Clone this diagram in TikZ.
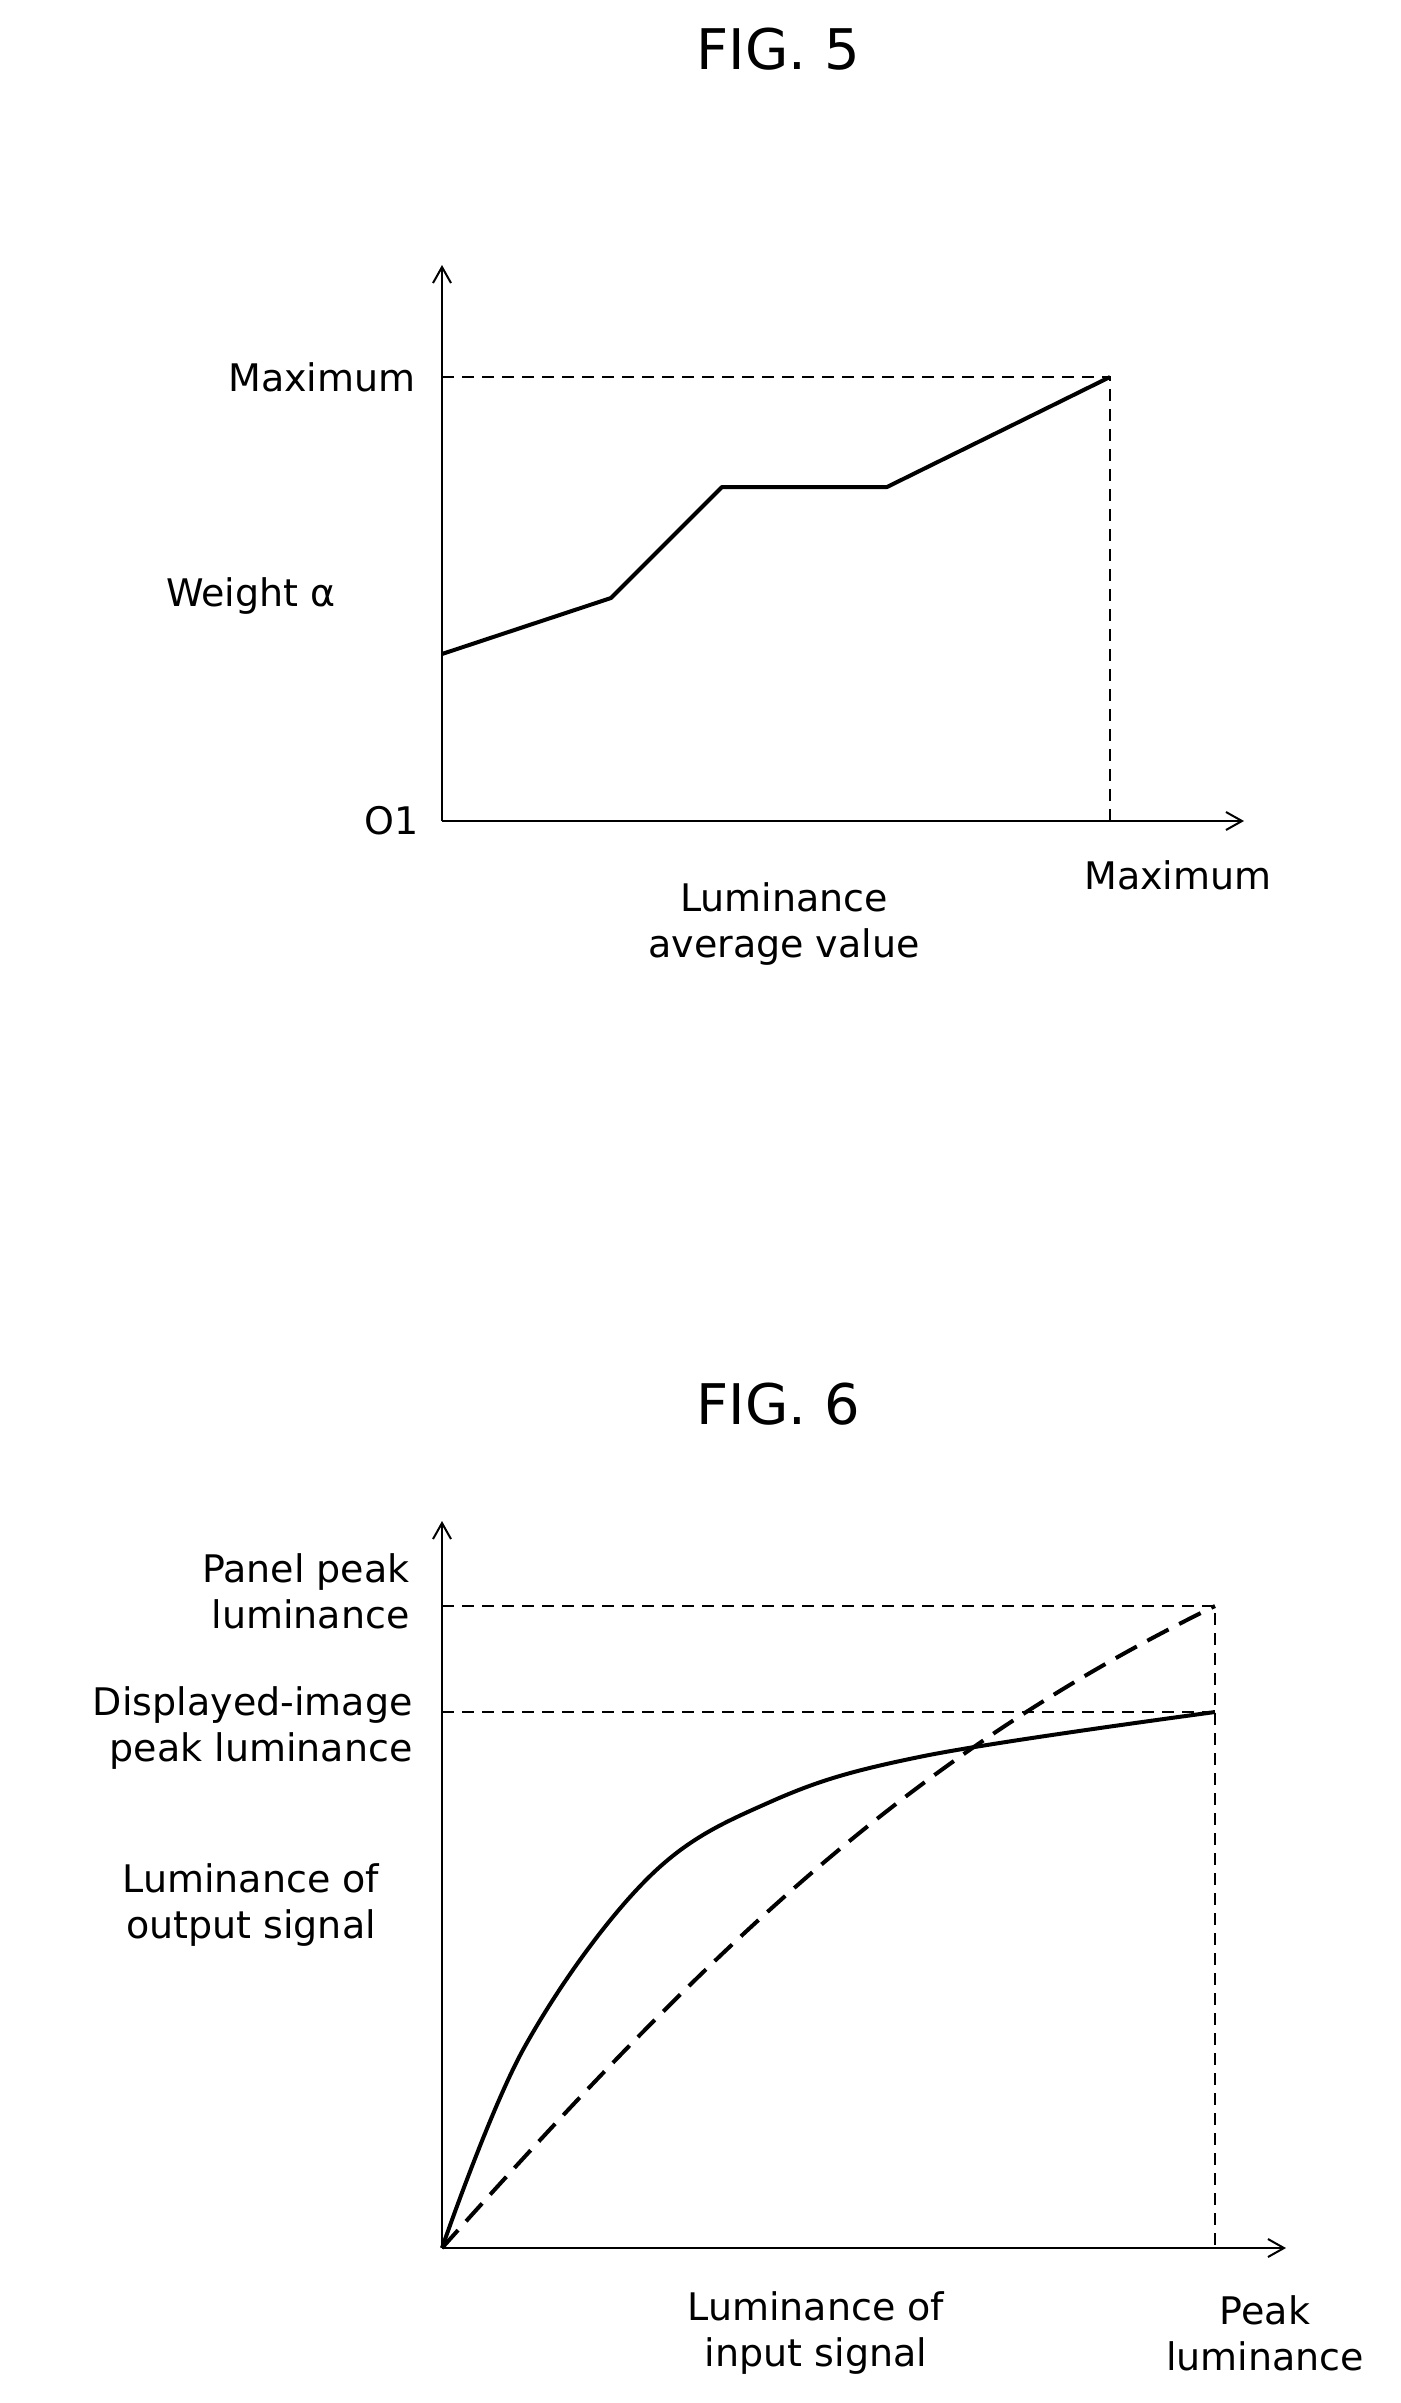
\documentclass[tikz,border=0pt]{standalone}
\usepackage{fontspec}
\setmainfont{DejaVu Sans}
\usetikzlibrary{arrows.meta}
\begin{document}
\begin{tikzpicture}[x=0.5pt,y=-0.5pt,
  ax/.style={line width=1pt,-{Straight Barb[length=8pt,width=9pt]}},
  guide/.style={line width=0.8pt,dash pattern=on 6pt off 4pt},
  crv/.style={line width=2pt,line join=round},
  lbl/.style={font=\fontsize{19}{23}\selectfont,inner sep=0pt,align=center},
  ttl/.style={font=\fontsize{28}{32}\selectfont,inner sep=0pt}]
\useasboundingbox (0,0) rectangle (1401,2403);
% FIG 5
\node[ttl] (t5) at (778,49) {FIG. 5};
\coordinate (o5) at (442,821);
\coordinate (y5) at (442,265);
\coordinate (x5) at (1244,821);
\draw[ax] (o5) -- (y5);
\draw[ax] (o5) -- (x5);
\coordinate (m5) at (1110,377);
\coordinate (ym5) at (442,377);
\coordinate (xm5) at (1110,821);
\draw[guide] (ym5) -- (m5) -- (xm5);
\coordinate (p1) at (442,654);
\coordinate (p2) at (611,598);
\coordinate (p3) at (722,487);
\coordinate (p4) at (887,487);
\draw[crv] (p1) -- (p2) -- (p3) -- (p4) -- (m5);
\node[lbl,anchor=east] (lm5) at (416,377) {Maximum};
\node[lbl] (lw) at (251,596) {Weight α};
\node[lbl,anchor=east] (lo) at (419,821) {O1};
\node[lbl] (lx5) at (784,924) {Luminance\\average value};
\node[lbl] (lmx) at (1178,875) {Maximum};
% FIG 6
\node[ttl] (t6) at (778,1404) {FIG. 6};
\coordinate (o6) at (442,2248);
\coordinate (y6) at (442,1521);
\coordinate (x6) at (1286,2248);
\draw[ax] (o6) -- (y6);
\draw[ax] (o6) -- (x6);
\coordinate (pp) at (1215,1606);
\coordinate (dp) at (1215,1712);
\draw[guide] (442,1606) -- (pp) -- (1215,2248);
\draw[guide] (442,1712) -- (dp);
\draw[crv] plot[smooth,tension=0.6] coordinates {(442,2248) (524,2048) (647,1879) (770,1802) (924,1756) (1215,1712)};
\draw[crv,dash pattern=on 12pt off 6pt] (o6) .. controls (700,1960) and (900,1760) .. (pp);
\node[lbl,align=right,anchor=east] (lpp) at (410,1591) {Panel peak\\luminance};
\node[lbl,align=right,anchor=east] (ldp) at (413,1728) {Displayed-image\\peak luminance};
\node[lbl] (lo6) at (251,1905) {Luminance of\\output signal};
\node[lbl] (li6) at (816,2333) {Luminance of\\input signal};
\node[lbl] (lpk) at (1265,2333) {Peak\\luminance};
\end{tikzpicture}
\end{document}
